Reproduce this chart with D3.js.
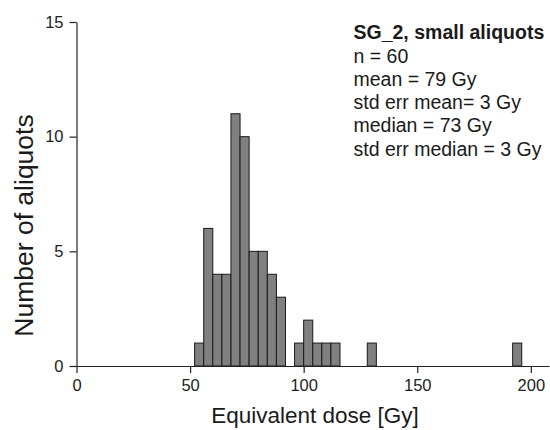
<!DOCTYPE html>
<html lang="en">
<head>
  <meta charset="utf-8">
  <title>SG_2 equivalent dose histogram</title>
  <script src="https://d3js.org/d3.v7.min.js"></script>
  <style>
    body { margin: 0; background: #fff; }
    text { font-family: "Liberation Sans", Arial, sans-serif; }
  </style>
</head>
<body>
  <svg id="chart" width="550" height="430"></svg>
  <script>
    // 4 Gy bins, left edges and counts
    const binStarts = [52, 56, 60, 64, 68, 72, 76, 80, 84, 88, 96, 100, 104, 108, 112, 128, 192];
    const counts    = [1, 6, 4, 4, 11, 10, 5, 5, 4, 3, 1, 2, 1, 1, 1, 1, 1];
    const binWidth = 4;

    const xTicks = [0, 50, 100, 150, 200];
    const yTicks = [0, 5, 10, 15];

    const statsTitle = "SG_2, small aliquots";
    const statsLines = ["n = 60", "mean = 79 Gy", "std err mean= 3 Gy", "median = 73 Gy", "std err median = 3 Gy"];

    const margin = { top: 22, right: 1, bottom: 64, left: 76.5 };
    const width = 550, height = 430;

    const svg = d3.select("#chart");

    let x = d3.scaleLinear()
      .domain([0, 208])
      .range([margin.left, width - margin.right]);

    let y = d3.scaleLinear()
      .domain([0, 15])
      .range([height - margin.bottom, margin.top]);

    const bins = binStarts.map((b, i) => ({ x0: b, x1: b + binWidth, n: counts[i] }));

    svg.append("g")
      .selectAll("rect")
      .data(bins)
      .join("rect")
      .attr("x", d => x(d.x0))
      .attr("y", d => y(d.n))
      .attr("width", d => x(d.x1) - x(d.x0))
      .attr("height", d => y(0) - y(d.n))
      .style("fill", "#808080")
      .style("stroke", "#1a1a1a")
      .style("stroke-width", "1px")

    let xAxis = svg.append("g")
      .attr("transform", `translate(0,${y(0)})`)
      .call(d3.axisBottom(x).tickValues(xTicks).tickSize(7).tickPadding(6).tickSizeOuter(0))

    let yAxis = svg.append("g")
      .attr("transform", `translate(${x(0)},0)`)
      .call(d3.axisLeft(y).tickValues(yTicks).tickSize(7).tickPadding(6).tickSizeOuter(0))

    svg.selectAll(".domain").style("stroke", "#222").style("stroke-width", "1.2px")
    svg.selectAll(".tick line").style("stroke", "#222").style("stroke-width", "1.2px")
    svg.selectAll(".tick text")
      .style("font-size", "16.5px")
      .style("fill", "#222")

    // axis titles
    svg.append("text")
      .attr("x", 315)
      .attr("y", 423)
      .attr("text-anchor", "middle")
      .style("font-size", "22.5px")
      .style("fill", "#1a1a1a")
      .text("Equivalent dose [Gy]")

    svg.append("text")
      .attr("transform", "translate(32.5,225.5) rotate(-90)")
      .attr("text-anchor", "middle")
      .style("font-size", "26.5px")
      .style("fill", "#1a1a1a")
      .text("Number of aliquots")

    // stats box
    let stats = svg.append("g").attr("transform", "translate(353.5,0)")
    stats.append("text")
      .attr("y", 38.5)
      .style("font-size", "19.5px")
      .style("font-weight", "bold")
      .style("fill", "#1a1a1a")
      .text(statsTitle)

    stats.selectAll(".line")
      .data(statsLines)
      .join("text")
      .attr("class", "line")
      .attr("y", (d, i) => 62.5 + i * 23.3)
      .style("font-size", "19.5px")
      .style("fill", "#1a1a1a")
      .text(d => d)
  </script>
</body>
</html>
